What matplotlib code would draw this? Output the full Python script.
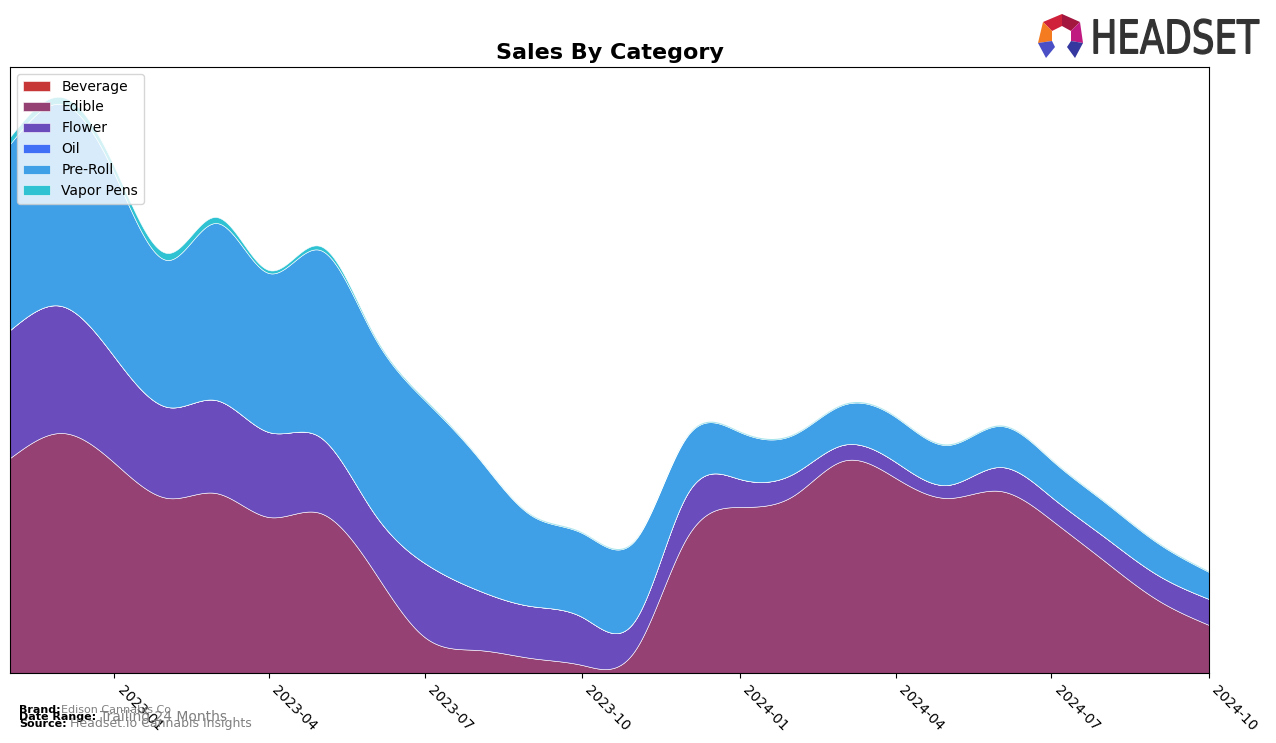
import numpy as np
import pandas as pd
import matplotlib
matplotlib.use("Agg")
import matplotlib.pyplot as plt
import matplotlib.dates as mdates
from matplotlib.textpath import TextPath
from matplotlib.patches import PathPatch, Polygon
from matplotlib.font_manager import FontProperties
from matplotlib.transforms import Affine2D

# ---------------- data ----------------
months = pd.date_range("2022-11-01", "2024-10-01", freq="MS")
categories = ["Beverage", "Edible", "Flower", "Oil", "Pre-Roll", "Vapor Pens"]

beverage = [0] * 24
edible = [215, 240, 210, 175, 180, 156, 160, 103, 36, 23, 15, 8,
          23, 135, 166, 177, 212, 195, 175, 182, 153, 112, 73, 48]
flower = [128, 127, 106, 91, 93, 85, 76, 58, 74, 60, 52, 48,
          30, 43, 28, 22, 16, 16, 13, 24, 23, 24, 25, 26]
oil = [0] * 24
pre_roll = [186, 202, 183, 147, 177, 159, 187, 177, 163, 133, 91, 84,
            80, 58, 47, 39, 40, 45, 40, 41, 37, 35, 32, 27]
vapor_pens = [7, 7, 7, 7, 6, 3, 4, 2, 1.5, 1, 1, 1,
              1, 1, 1, 1, 1, 1, 1, 1, 1, 1, 1, 1]

colors = ["#C83737", "#954174", "#6A4CBC", "#4070F5", "#3FA0E8", "#2FC2D2"]


def natural_cubic_spline(x, y, xs):
    x = np.asarray(x, float)
    y = np.asarray(y, float)
    n = len(x)
    h = np.diff(x)
    A = np.zeros((n, n))
    b = np.zeros(n)
    A[0, 0] = 1
    A[-1, -1] = 1
    for i in range(1, n - 1):
        A[i, i - 1] = h[i - 1]
        A[i, i] = 2 * (h[i - 1] + h[i])
        A[i, i + 1] = h[i]
        b[i] = 3 * ((y[i + 1] - y[i]) / h[i] - (y[i] - y[i - 1]) / h[i - 1])
    c = np.linalg.solve(A, b)
    out = np.empty_like(xs, dtype=float)
    idx = np.clip(np.searchsorted(x, xs) - 1, 0, n - 2)
    for k, xv in enumerate(xs):
        i = idx[k]
        bi = (y[i + 1] - y[i]) / h[i] - h[i] * (2 * c[i] + c[i + 1]) / 3
        di = (c[i + 1] - c[i]) / (3 * h[i])
        dx = xv - x[i]
        out[k] = y[i] + bi * dx + c[i] * dx ** 2 + di * dx ** 3
    return out


xnum = mdates.date2num(months)
xs = np.linspace(xnum[0], xnum[-1], 1500)
series = [beverage, edible, flower, oil, pre_roll, vapor_pens]
smooth = [np.clip(natural_cubic_spline(xnum, s, xs), 0, None) for s in series]

# ---------------- figure ----------------
fig = plt.figure(figsize=(12.76, 7.43), dpi=100)
ax = fig.add_axes([10 / 1276, 1 - 673 / 743, 1199 / 1276, 606 / 743])

polys = ax.stackplot(mdates.num2date(xs), *smooth, labels=categories, colors=colors,
                     linewidth=0.4, alpha=1.0)
for p, c in zip(polys, colors):
    p.set_edgecolor((1, 1, 1, 0.2))

ax.set_xlim(mdates.num2date(xnum[0]), mdates.num2date(xnum[-1]))
ax.set_ylim(0, 606)
ax.set_yticks([])
ax.xaxis.set_major_locator(mdates.MonthLocator(bymonth=[1, 4, 7, 10]))
ax.xaxis.set_major_formatter(mdates.DateFormatter("%Y-%m"))
for lbl in ax.get_xticklabels():
    lbl.set_rotation(-45)
    lbl.set_ha("left")
    lbl.set_fontsize(10)

ax.set_title("Sales By Category", fontsize=16, fontweight="bold", pad=6)

leg = ax.legend(loc="upper left", fontsize=10, frameon=True)

# ---------------- footer ----------------
fig.text(19 / 1276, 1 - 710 / 743, "Brand:", fontsize=8, fontweight="bold", va="center")
fig.text(61 / 1276, 1 - 710 / 743, "Edison Cannabis Co", fontsize=8, color="gray", va="center")
fig.text(19 / 1276, 1 - 717 / 743, "Date Range:", fontsize=8, fontweight="bold", va="center")
fig.text(100 / 1276, 1 - 717 / 743, "Trailing 24 Months", fontsize=10, color="gray", va="center")
fig.text(19 / 1276, 1 - 724 / 743, "Source:", fontsize=8, fontweight="bold", va="center")
fig.text(70 / 1276, 1 - 724 / 743, "Headset.io Cannabis Insights", fontsize=9, color="gray", va="center")

# ---------------- logo ----------------
def px(x, y):
    return (x / 1276, 1 - y / 743)

segs = [
    ([(1043, 22), (1062, 14), (1062, 26), (1052, 31)], "#D0213A"),
    ([(1062, 14), (1080, 22), (1071, 31), (1062, 26)], "#A3173F"),
    ([(1043, 22), (1052, 31), (1052, 41), (1038, 43)], "#F47B20"),
    ([(1080, 22), (1083, 43), (1071, 41), (1071, 31)], "#C01A80"),
    ([(1038, 43), (1052, 41), (1055, 47), (1046, 58)], "#4B4FC6"),
    ([(1083, 43), (1071, 41), (1067, 47), (1075, 58)], "#35389E"),
]
for pts, col in segs:
    fig.patches.append(Polygon([px(*p) for p in pts], closed=True, transform=fig.transFigure,
                               facecolor=col, edgecolor="none"))

tp = TextPath((0, 0), "HEADSET", size=100,
              prop=FontProperties(family="DejaVu Sans", weight="normal"))
ext = tp.get_extents()
sx = (1259 - 1094) / ext.width
sy = (54 - 19) / ext.height
tr = (Affine2D().translate(-ext.x0, -ext.y0).scale(sx, sy).translate(1094, 743 - 54)
      + Affine2D().scale(1 / 1276, 1 / 743) + fig.transFigure)
fig.patches.append(PathPatch(tp, transform=tr, facecolor="#333333", edgecolor="#333333",
                             linewidth=0.9))

fig.savefig("out.png", dpi=100)
